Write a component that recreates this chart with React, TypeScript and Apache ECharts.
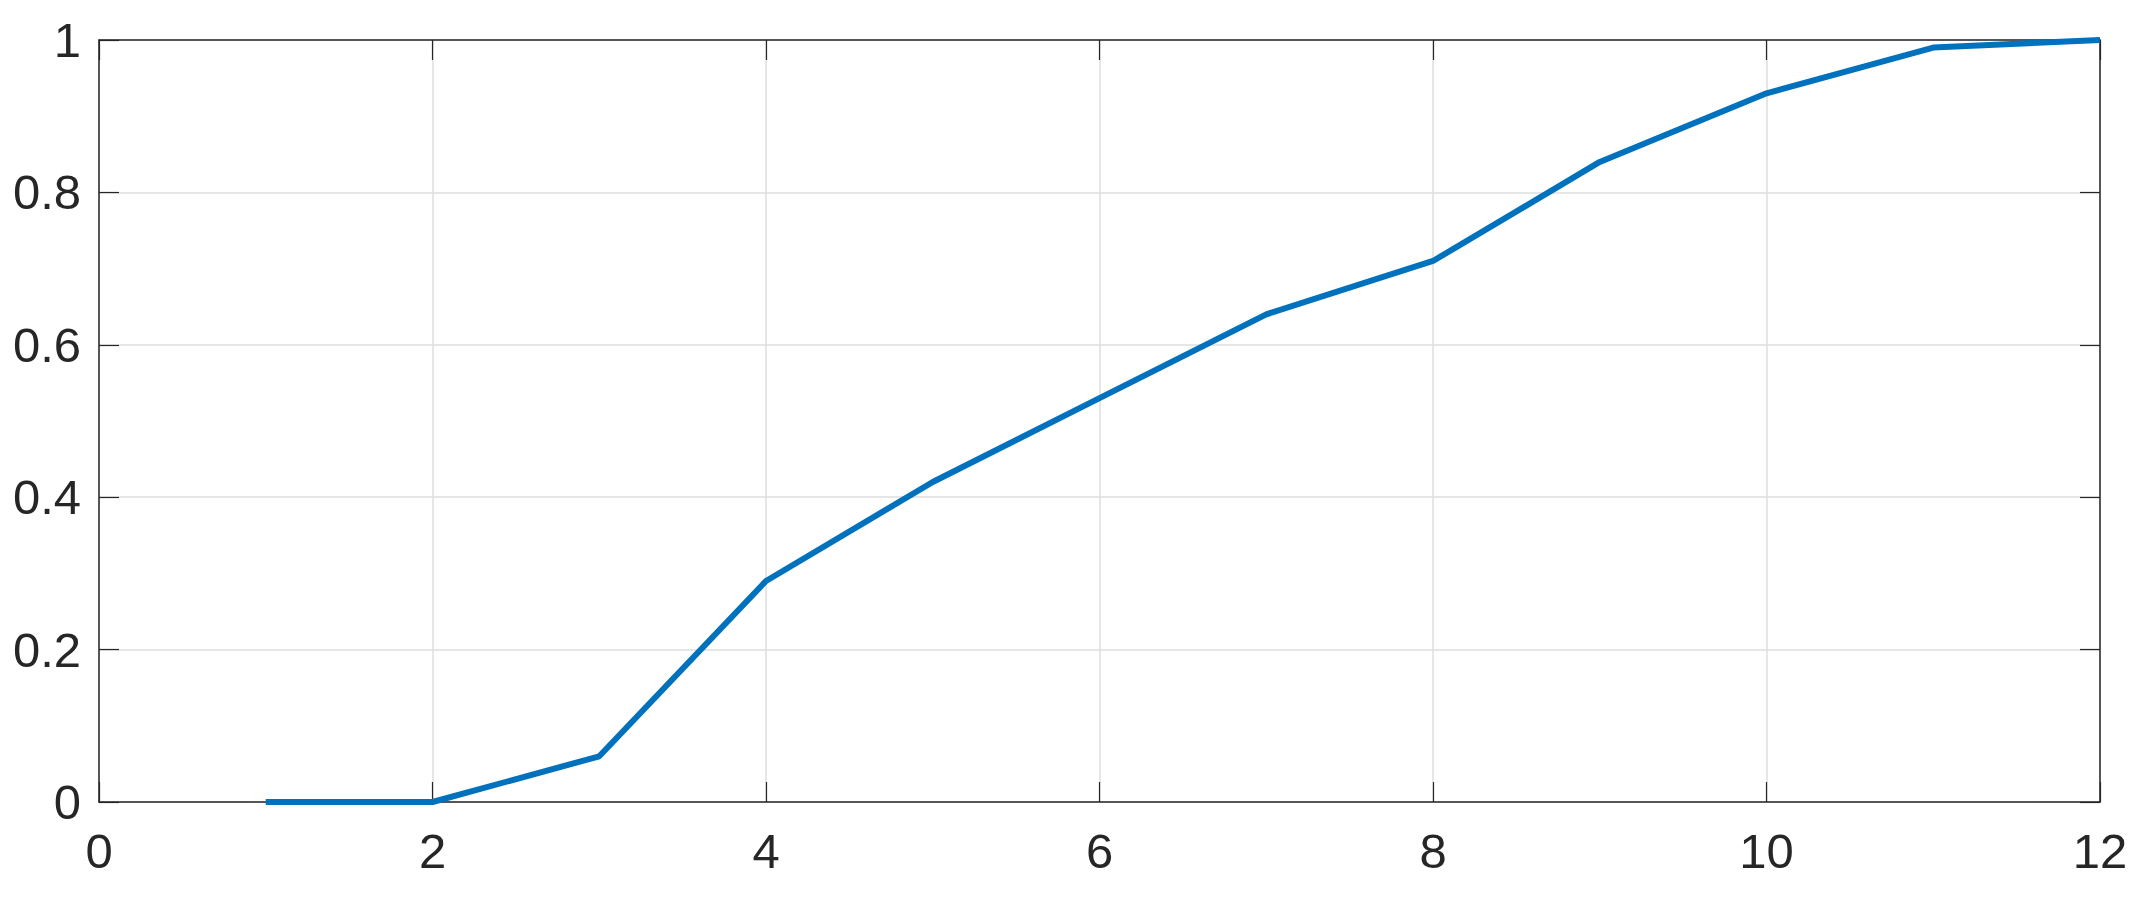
import React, { useEffect, useRef } from 'react';
import * as echarts from 'echarts';

const xValues = [1, 2, 3, 4, 5, 6, 7, 8, 9, 10, 11, 12];
const yValues = [0, 0, 0.06, 0.29, 0.42, 0.53, 0.64, 0.71, 0.84, 0.93, 0.99, 1.0];

const axisColor = '#262626';
const labelFont = 'Liberation Sans, Arial, Helvetica, sans-serif';

const App: React.FC = () => {
  const chartRef = useRef<HTMLDivElement>(null);

  useEffect(() => {
    if (!chartRef.current) return;
    const chart = echarts.init(chartRef.current, undefined, { renderer: 'svg' });

    // MATLAB-like box: axis lines on all four sides, ticks pointing inward
    const boxAxisLine = { show: true, onZero: false, lineStyle: { color: axisColor, width: 1.5 } };
    const innerTick = { show: true, inside: true, length: 20, lineStyle: { color: axisColor, width: 1.2 } };
    const gridLine = { show: true, lineStyle: { color: '#dedede', width: 1.5 } };

    chart.setOption({
      animation: false,
      backgroundColor: '#ffffff',
      grid: { left: 91, top: 32, right: 41, bottom: 93, containLabel: false },
      xAxis: [
        {
          type: 'value',
          min: 0,
          max: 12,
          interval: 2,
          position: 'bottom',
          axisLine: boxAxisLine,
          axisTick: innerTick,
          splitLine: gridLine,
          axisLabel: { color: axisColor, fontSize: 49, fontFamily: labelFont, margin: 24 },
        },
        {
          type: 'value',
          min: 0,
          max: 12,
          interval: 2,
          position: 'top',
          axisLine: boxAxisLine,
          axisTick: innerTick,
          splitLine: { show: false },
          axisLabel: { show: false },
        },
      ],
      yAxis: [
        {
          type: 'value',
          min: 0,
          max: 1,
          interval: 0.2,
          position: 'left',
          axisLine: boxAxisLine,
          axisTick: innerTick,
          splitLine: gridLine,
          axisLabel: { color: axisColor, fontSize: 49, fontFamily: labelFont, margin: 18 },
        },
        {
          type: 'value',
          min: 0,
          max: 1,
          interval: 0.2,
          position: 'right',
          axisLine: boxAxisLine,
          axisTick: innerTick,
          splitLine: { show: false },
          axisLabel: { show: false },
        },
      ],
      series: [
        {
          type: 'line',
          data: xValues.map((x, i) => [x, yValues[i]]),
          showSymbol: false,
          lineStyle: { color: '#0072BD', width: 6 },
          z: 5,
        },
      ],
    });

    return () => {
      chart.dispose();
    };
  }, []);

  return <div ref={chartRef} style={{ width: '2133px', height: '887px' }}></div>;
};

export default App;
